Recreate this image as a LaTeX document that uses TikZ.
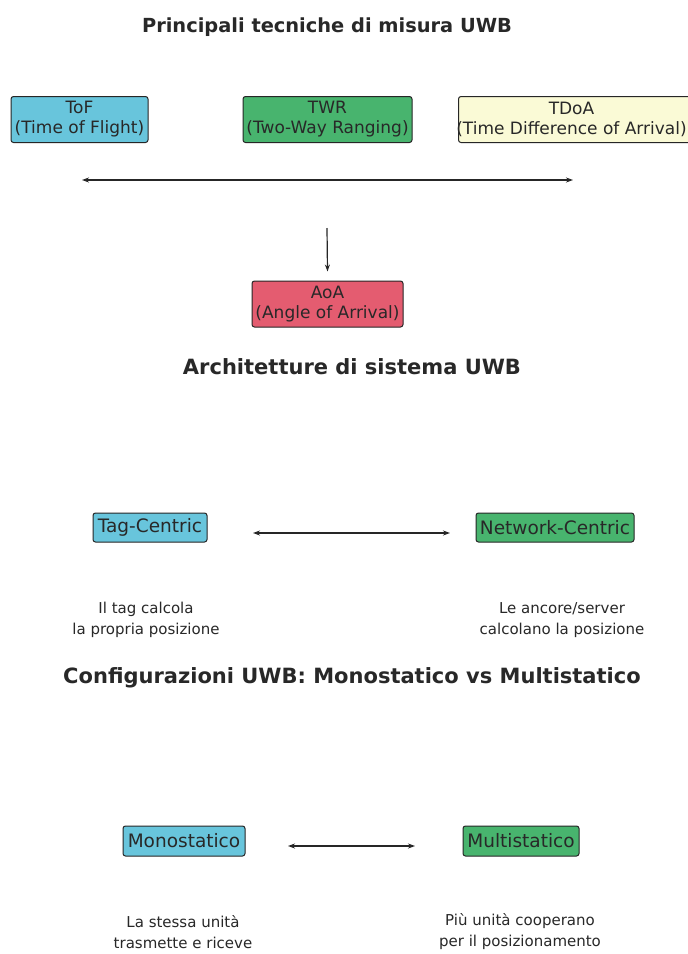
\documentclass[tikz,border=0pt]{standalone}
\usepackage{fontspec}
\setmainfont{DejaVu Sans}
\usetikzlibrary{arrows.meta}
\definecolor{cyanbox}{RGB}{104,197,220}
\definecolor{greenbox}{RGB}{72,180,110}
\definecolor{yellowbox}{RGB}{250,250,214}
\definecolor{redbox}{RGB}{228,92,112}
\definecolor{txt}{RGB}{40,40,40}
\begin{document}
\begin{tikzpicture}[x=1pt,y=-1pt,
  titlestyle/.style={font=\bfseries\fontsize{21}{24}\selectfont, text=txt},
  boxstyle/.style={draw=black!85, line width=1pt, rounded corners=2.5pt, align=center,
     font=\fontsize{17}{20}\selectfont, text=txt, inner xsep=1pt, inner ysep=2pt},
  onebox/.style={boxstyle, font=\fontsize{18.5}{20}\selectfont},
  notestyle/.style={align=center, font=\fontsize{15}{21}\selectfont, text=txt},
  arr/.style={-{Stealth[length=7pt,width=5pt]}, line width=1.2pt, black!85},
  darr/.style={{Stealth[length=7pt,width=5pt]}-{Stealth[length=7pt,width=5pt]}, line width=1.2pt, black!85}]
\clip (0,0) rectangle (688,954);
\useasboundingbox[fill=white] (0,0) rectangle (688,954);

% Section 1
\node[titlestyle, font=\bfseries\fontsize{19.4}{24}\selectfont] (t1) at (327,27) {Principali tecniche di misura UWB};
\node[boxstyle, fill=cyanbox, minimum width=137pt, minimum height=46pt] (tof) at (79.5,119.5) {ToF\\(Time of Flight)};
\node[boxstyle, fill=greenbox, minimum width=169pt, minimum height=46pt] (twr) at (327.5,119.5) {TWR\\(Two-Way Ranging)};
\node[boxstyle, fill=yellowbox, minimum width=240pt, minimum height=46pt, anchor=west] (tdoa) at (458,119.5) {\hspace*{-14pt}TDoA\\\hspace*{-14pt}(Time Difference of Arrival)};
\coordinate (mid) at (327,180);
\coordinate (leftend) at (82,180);
\coordinate (rightend) at (573,180);
\draw[arr] (mid) -- (leftend);
\draw[arr] (mid) -- (rightend);
\coordinate (downstart) at (327,228);
\node[boxstyle, fill=redbox, minimum width=151pt, minimum height=46pt] (aoa) at (327.5,304) {AoA\\(Angle of Arrival)};
\draw[arr] (downstart) -- ([yshift=9pt]aoa.north);

% Section 2
\node[titlestyle] (t2) at (352,367) {Architetture di sistema UWB};
\node[onebox, fill=cyanbox, minimum width=114pt, minimum height=29pt] (tag) at (150,527.5) {Tag-Centric};
\node[onebox, fill=greenbox, minimum width=158pt, minimum height=29pt] (net) at (555,527.5) {Network-Centric};
\coordinate (a2l) at (253,533);
\coordinate (a2r) at (450,533);
\draw[darr] (a2l) -- (a2r);
\node[notestyle] (n1) at (146,620) {Il tag calcola\\la propria posizione};
\node[notestyle] (n2) at (562,620) {Le ancore/server\\calcolano la posizione};

% Section 3
\node[titlestyle] (t3) at (352,678) {Configurazioni UWB: Monostatico vs Multistatico};
\node[onebox, fill=cyanbox, minimum width=122pt, minimum height=30pt] (mono) at (184,841) {Monostatico};
\node[onebox, fill=greenbox, minimum width=116pt, minimum height=30pt] (multi) at (521,841) {Multistatico};
\coordinate (a3l) at (288,846);
\coordinate (a3r) at (415,846);
\draw[darr] (a3l) -- (a3r);
\node[notestyle] (n3) at (183,932) {La stessa unità\\trasmette e riceve};
\node[notestyle] (n4) at (520,932) {Più unità cooperano\\per il posizionamento};
\end{tikzpicture}
\end{document}
